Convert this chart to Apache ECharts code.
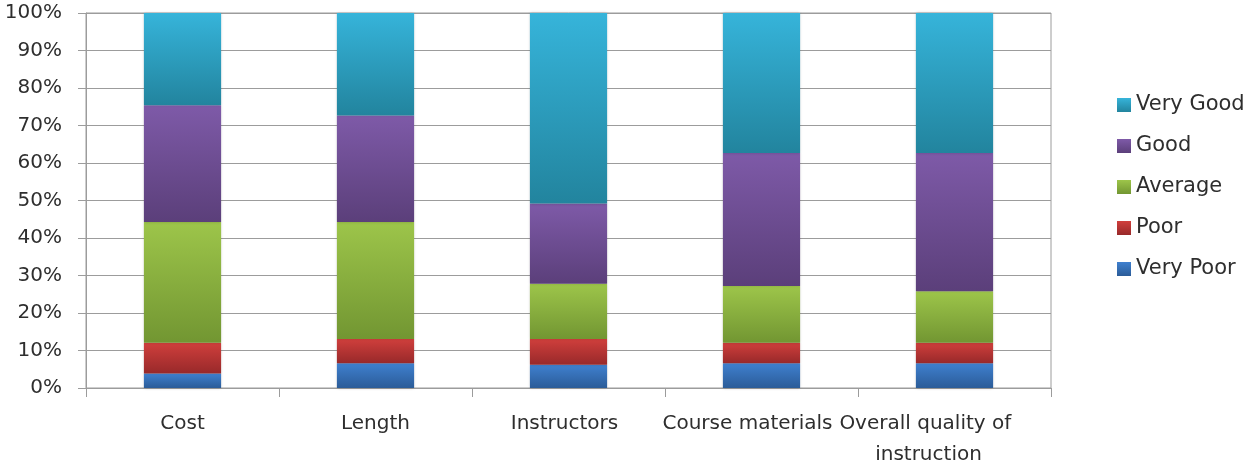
<!DOCTYPE html>
<html>
<head>
<meta charset="utf-8">
<title>Course evaluation ratings</title>
<script src="https://cdn.jsdelivr.net/npm/echarts@6/dist/echarts.min.js"></script>
<style>
  html, body { margin: 0; padding: 0; background: #ffffff; }
  #chart { width: 1253px; height: 466px; }
</style>
</head>
<body>
<div id="chart"></div>
<script>
// Survey aspects (x axis)
var categories = ['Cost', 'Length', 'Instructors', 'Course materials', 'Overall quality of instruction'];

// Share of responses per rating, in percent, per aspect
var veryPoor = [3.9, 6.6, 6.2, 6.6, 6.6];
var poor     = [8.2, 6.5, 6.9, 5.5, 5.5];
var average  = [32.2, 31.2, 14.7, 15.1, 13.7];
var good     = [31.1, 28.4, 21.4, 35.5, 36.9];
var veryGood = [24.6, 27.3, 50.8, 37.3, 37.3];

// Value axis ticks
var yTicks = [0, 10, 20, 30, 40, 50, 60, 70, 80, 90, 100];

// Horizontal nudges for the crowded right-hand category labels
var labelShift = [0, 0, 8, 28, 52];

var FONT = 'DejaVu Sans';
var TEXT = '#2e2e2e';
var LINE = '#9c9c9c';

function grad(top, bottom) {
  return new echarts.graphic.LinearGradient(0, 0, 0, 1, [
    { offset: 0, color: top },
    { offset: 1, color: bottom }
  ]);
}

function barSeries(name, values, top, bottom) {
  return {
    name: name,
    type: 'bar',
    stack: 'total',
    barWidth: '40%',
    data: values,
    itemStyle: {
      color: grad(top, bottom),
      shadowBlur: 3,
      shadowColor: 'rgba(0,0,0,0.22)'
    },
    emphasis: { disabled: true }
  };
}

var chart = echarts.init(document.getElementById('chart'), null, { renderer: 'canvas' });

chart.setOption({
  animation: false,
  backgroundColor: '#ffffff',
  grid: {
    left: 86, right: 202, top: 13, bottom: 78,
    outerBoundsMode: 'none',
    containLabel: false,
    show: true, borderColor: LINE, borderWidth: 1, backgroundColor: 'transparent'
  },
  legend: {
    orient: 'vertical',
    left: 1112,
    top: 89,
    itemWidth: 14,
    itemHeight: 14,
    itemGap: 19,
    icon: 'rect',
    data: ['Very Good', 'Good', 'Average', 'Poor', 'Very Poor'],
    textStyle: { fontFamily: FONT, fontSize: 21, color: TEXT, lineHeight: 22 }
  },
  xAxis: {
    type: 'category',
    data: categories.map(function (c, i) {
      return { value: c, textStyle: { padding: [0, labelShift[i], 0, 0] } };
    }),
    boundaryGap: true,
    axisLine: { lineStyle: { color: LINE, width: 1 } },
    axisTick: { show: true, length: 9, alignWithLabel: false, lineStyle: { color: LINE } },
    axisLabel: {
      interval: 0,
      margin: 20,
      fontFamily: FONT,
      fontSize: 20,
      color: TEXT,
      lineHeight: 31,
      width: 190,
      overflow: 'break'
    },
    splitLine: { show: false }
  },
  yAxis: {
    type: 'value',
    min: yTicks[0],
    max: yTicks[yTicks.length - 1],
    interval: yTicks[1] - yTicks[0],
    axisLine: { show: true, lineStyle: { color: LINE, width: 1 } },
    axisTick: { show: true, length: 8, lineStyle: { color: LINE } },
    axisLabel: {
      margin: 24,
      fontFamily: FONT,
      fontSize: 20,
      color: TEXT,
      formatter: '{value}%'
    },
    splitLine: { show: true, lineStyle: { color: LINE, width: 1 } }
  },
  series: [
    barSeries('Very Poor', veryPoor, '#3f80cf', '#2b5c98'),
    barSeries('Poor', poor, '#d03f3c', '#98292a'),
    barSeries('Average', average, '#9dc54a', '#729632'),
    barSeries('Good', good, '#7e5aa8', '#5b3f7a'),
    barSeries('Very Good', veryGood, '#36b4da', '#22849e')
  ]
});
</script>
</body>
</html>
